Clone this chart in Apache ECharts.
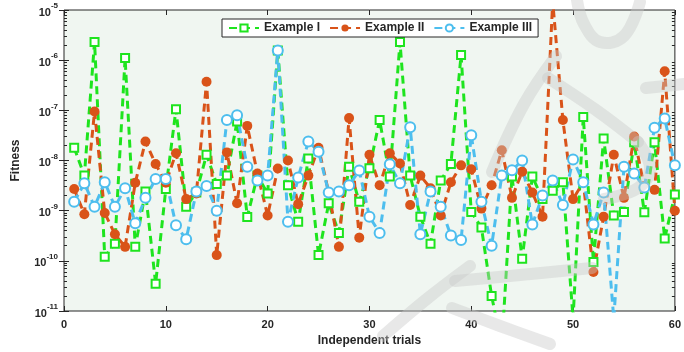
<!DOCTYPE html>
<html>
<head>
<meta charset="utf-8">
<script src="https://cdn.jsdelivr.net/npm/echarts@6/dist/echarts.min.js"></script>
<style>
  html, body { margin: 0; padding: 0; background: #fff; }
  #main { width: 684px; height: 352px; }
</style>
</head>
<body>
<div id="main"></div>
<script>
var trials = Array.from({ length: 60 }, function (_, i) { return i + 1; });

var exampleI = [
  1.8e-8, 5e-9, 2.3e-6, 1.2e-10, 2.2e-10, 1.1e-6, 1.9e-10, 2.4e-9, 3.5e-11, 2.7e-9,
  1.05e-7, 1.2e-9, 2.3e-9, 1.3e-8, 3.4e-9, 5e-9, 6e-8, 7.5e-10, 5e-9, 2.2e-9,
  1.55e-6, 3.2e-9, 6e-10, 1.1e-8, 1.3e-10, 1.4e-9, 3.6e-10, 7.5e-9, 1.5e-9, 7e-9,
  6.4e-8, 4.8e-9, 2.3e-6, 5e-9, 7.6e-10, 2.2e-10, 4e-9, 8.5e-9, 1.27e-6, 9.4e-10,
  4.6e-10, 2e-11, 2e-12, 4.8e-9, 1.1e-10, 4.8e-9, 1.7e-9, 2.5e-9, 3.7e-9, 7e-12,
  7.4e-8, 9.5e-11, 2.75e-8, 8e-10, 9.4e-10, 2.3e-8, 9.3e-10, 2.3e-8, 2.8e-10, 2.1e-9
];

var exampleII = [
  2.7e-9, 8.5e-10, 9.5e-8, 9e-10, 3.4e-10, 1.9e-10, 3.6e-9, 2.4e-8, 8.5e-9, 3.6e-9,
  1.4e-8, 1.7e-9, 2.2e-9, 3.7e-7, 1.3e-10, 1.45e-8, 1.4e-9, 4.9e-8, 5.5e-9, 8e-10,
  6.9e-9, 1e-8, 1.35e-9, 5e-9, 1.8e-8, 2.3e-9, 1.9e-10, 7e-8, 2.9e-10, 1.3e-8,
  3.2e-9, 1.4e-8, 8.7e-9, 1.3e-9, 5e-9, 2.8e-9, 8e-10, 3.7e-9, 8e-9, 6.7e-9,
  1.1e-9, 3.2e-9, 1.6e-8, 1.8e-9, 6e-9, 2.3e-9, 7.6e-10, 1.5e-5, 6.4e-8, 1.7e-9,
  3.7e-9, 6e-11, 7.6e-10, 1.3e-8, 1.8e-9, 3e-8, 2.9e-9, 2.6e-9, 6e-7, 1e-9
];

var exampleIII = [
  1.5e-9, 3.5e-9, 1.2e-9, 3.7e-9, 1.2e-9, 2.8e-9, 5.6e-10, 1.8e-9, 4.3e-9, 4.3e-9,
  5.1e-10, 2.7e-10, 2.4e-9, 3.1e-9, 1e-9, 6.4e-8, 8e-8, 7.5e-9, 4e-9, 5e-9,
  1.55e-6, 6e-10, 4.6e-9, 2.4e-8, 1.5e-8, 2.3e-9, 2.4e-9, 3.2e-9, 6.3e-9, 7.6e-10,
  3.6e-10, 8.4e-9, 3.5e-9, 4.6e-8, 3.4e-10, 2.4e-9, 1.2e-9, 3.2e-10, 2.6e-10, 3.2e-8,
  1.5e-9, 2e-10, 5e-9, 6.4e-9, 1e-8, 5.3e-10, 2e-9, 4e-9, 1.3e-9, 1.05e-8,
  3.7e-9, 5.3e-10, 2.3e-9, 7e-12, 7.5e-9, 5.5e-9, 2.9e-9, 4.5e-8, 6.9e-8, 8e-9
];

var seriesNames = ['Example I', 'Example II', 'Example III'];
var xTicks = [0, 10, 20, 30, 40, 50, 60];
var yTicks = [1e-11, 1e-10, 1e-9, 1e-8, 1e-7, 1e-6, 1e-5];

var minorTicks = [];
for (var d = -11; d < -5; d++) {
  for (var k = 2; k <= 9; k++) {
    minorTicks.push(k * Math.pow(10, d));
  }
}

function pairs(ys) {
  return ys.map(function (y, i) { return [trials[i], y]; });
}

var axisColor = '#262626';
var dash = [8, 5];

// faint watermark strokes over the picture
var marks = [
  [[383, 336], [428, 298], [470, 266]],
  [[455, 281], [520, 275], [592, 268]],
  [[452, 308], [500, 326], [550, 344]],
  [[492, 172], [524, 104], [556, 56]],
  [[548, 78], [596, 110], [638, 142]],
  [[638, 142], [650, 168], [638, 188], [604, 199]],
  [[577, 0], [584, 24], [600, 42], [624, 36], [640, 2]],
  [[646, 88], [684, 84]]
];

var dom = document.getElementById('main');
var myChart = echarts.init(dom, null, { renderer: 'canvas' });

var baseY = {
  type: 'log',
  logBase: 10,
  min: 1e-11,
  max: 1e-5,
  gridIndex: 0,
  splitLine: { show: false },
  axisLine: { show: false }
};

var option = {
  backgroundColor: '#ffffff',
  animation: false,
  graphic: marks.map(function (pts) {
    return {
      type: 'polyline',
      z: 100,
      silent: true,
      shape: { points: pts, smooth: 0.4 },
      style: { stroke: '#c8c8c8', lineWidth: 12, opacity: 0.42, fill: null, lineCap: 'round', lineJoin: 'round' }
    };
  }),
  grid: {
    left: 64,
    top: 10,
    width: 618,
    height: 301,
    show: true,
    backgroundColor: '#f0f6f1',
    borderColor: axisColor,
    borderWidth: 1
  },
  legend: {
    left: 222,
    top: 19,
    padding: [3, 6, 3, 6],
    itemGap: 9,
    itemWidth: 30,
    itemHeight: 9,
    backgroundColor: '#ffffff',
    borderColor: axisColor,
    borderWidth: 1,
    borderRadius: 0,
    data: seriesNames,
    textStyle: { color: axisColor, fontSize: 12, fontWeight: 'bold', fontFamily: 'Liberation Sans' }
  },
  xAxis: [
    {
      type: 'value',
      min: 0,
      max: 60,
      interval: 10,
      name: 'Independent trials',
      nameLocation: 'middle',
      nameGap: 22,
      nameTextStyle: { color: axisColor, fontSize: 12, fontWeight: 'bold', fontFamily: 'Liberation Sans' },
      splitLine: { show: false },
      axisLine: { show: false },
      axisTick: { inside: true, length: 5, lineStyle: { color: axisColor } },
      axisLabel: {
        color: axisColor, fontSize: 11, fontWeight: 'bold', fontFamily: 'Liberation Sans', margin: 8,
        customValues: xTicks
      }
    },
    {
      type: 'value',
      position: 'top',
      min: 0,
      max: 60,
      interval: 10,
      splitLine: { show: false },
      axisLine: { show: false },
      axisTick: { inside: true, length: 5, lineStyle: { color: axisColor } },
      axisLabel: { show: false }
    }
  ],
  yAxis: [
    Object.assign({}, baseY, {
      position: 'left',
      name: 'Fitness',
      nameLocation: 'middle',
      nameGap: 42,
      nameTextStyle: { color: axisColor, fontSize: 12, fontWeight: 'bold', fontFamily: 'Liberation Sans' },
      axisTick: { inside: true, length: 5, lineStyle: { color: axisColor }, customValues: yTicks },
      axisLabel: {
        customValues: yTicks,
        margin: 6,
        formatter: function (v) {
          var e = Math.round(Math.log(v) / Math.LN10);
          return '{b|10}{s|' + e + '}';
        },
        rich: {
          b: { color: axisColor, fontSize: 11, fontWeight: 'bold', fontFamily: 'Liberation Sans', verticalAlign: 'bottom', lineHeight: 16 },
          s: { color: axisColor, fontSize: 8, fontWeight: 'bold', fontFamily: 'Liberation Sans', verticalAlign: 'top', lineHeight: 16, padding: [0, 0, 4, 0] }
        }
      }
    }),
    Object.assign({}, baseY, {
      position: 'right',
      axisTick: { inside: true, length: 5, lineStyle: { color: axisColor }, customValues: yTicks },
      axisLabel: { show: false }
    }),
    Object.assign({}, baseY, {
      position: 'left',
      axisTick: { inside: true, length: 3, lineStyle: { color: axisColor }, customValues: minorTicks },
      axisLabel: { show: false }
    }),
    Object.assign({}, baseY, {
      position: 'right',
      axisTick: { inside: true, length: 3, lineStyle: { color: axisColor }, customValues: minorTicks },
      axisLabel: { show: false }
    })
  ],
  series: [
    {
      name: 'Example I',
      type: 'line',
      data: pairs(exampleI),
      clip: true,
      symbol: 'emptyRect',
      symbolSize: 8,
      color: '#1ee41e',
      lineStyle: { width: 3, type: dash, color: '#1ee41e' },
      itemStyle: { color: '#1ee41e', borderWidth: 1.5 }
    },
    {
      name: 'Example II',
      type: 'line',
      data: pairs(exampleII),
      clip: true,
      symbol: 'circle',
      symbolSize: 10,
      color: '#d95319',
      lineStyle: { width: 3, type: dash, color: '#d95319' },
      itemStyle: { color: '#d95319' }
    },
    {
      name: 'Example III',
      type: 'line',
      data: pairs(exampleIII),
      clip: true,
      symbol: 'emptyCircle',
      symbolSize: 10,
      color: '#4dbeee',
      lineStyle: { width: 3, type: dash, color: '#4dbeee' },
      itemStyle: { color: '#4dbeee', borderWidth: 2.5 }
    }
  ]
};

myChart.setOption(option);
window.addEventListener('resize', myChart.resize);
</script>
</body>
</html>
